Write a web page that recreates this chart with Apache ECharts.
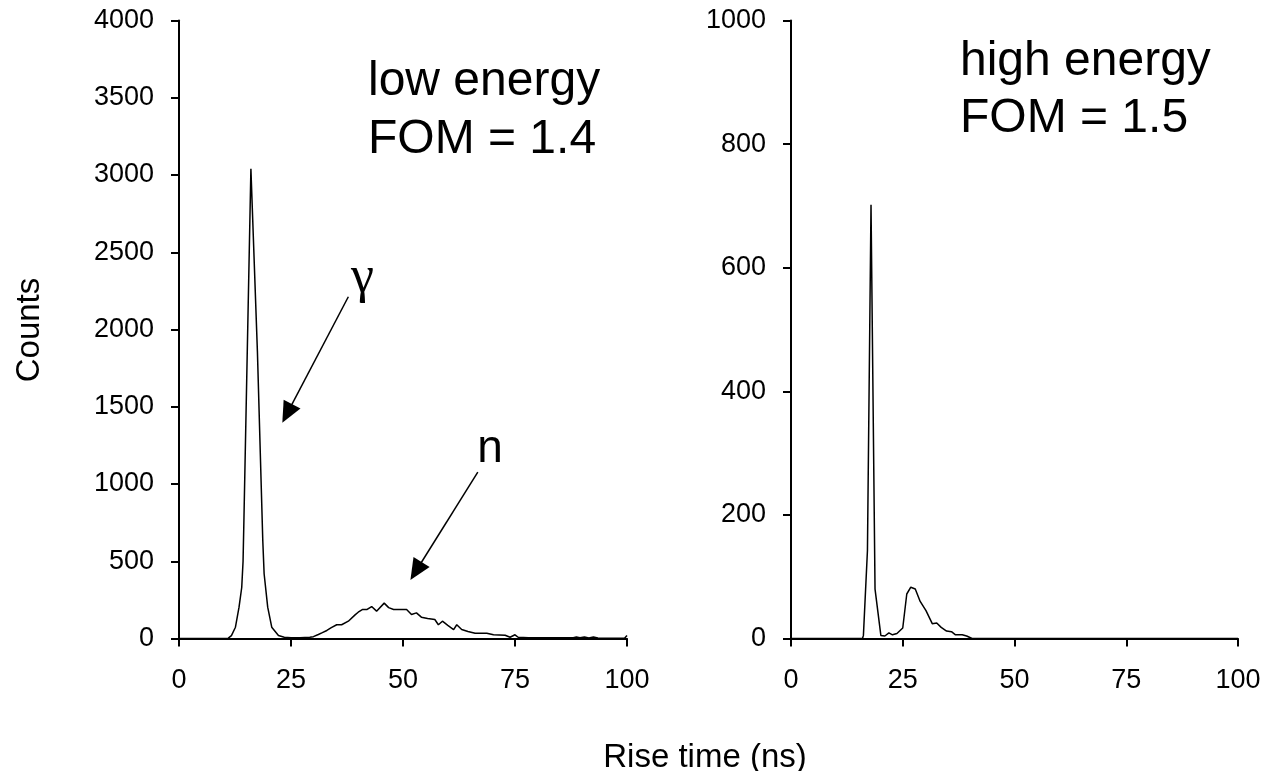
<!DOCTYPE html>
<html><head><meta charset="utf-8">
<script src="https://cdn.jsdelivr.net/npm/echarts@6/dist/echarts.min.js"></script>
<style>html,body{margin:0;padding:0;background:#fff}#c{width:1271px;height:771px}</style>
</head><body><div id="c"></div>
<script>
// Rise time (ns) vs counts, low-energy panel
const lowEnergy = [[0,0],[10,0],[11,2],[11.7,19],[12.6,73],[13.4,203],[14.0,330],[14.3,500],[14.5,780],[16.05,3040],[17.5,1860],[18.7,634],[19.0,419],[19.8,203],[20.7,73],[22.2,19],[23.5,8],[25,5],[27,5],[29.2,8],[30,12],[31.1,26],[32,38],[33,52],[34,70],[35.2,89],[36.3,89],[37.8,112],[39.3,153],[40,170],[41,188],[42,188],[43,207],[44.1,177],[45.8,229],[46.8,200],[47.9,188],[49,188],[50.8,188],[51.9,155],[53,166],[54.1,138],[55.5,130],[57.1,123],[57.9,89],[58.8,112],[60,85],[61.3,58],[62,89],[63.1,58],[64.5,45],[66.1,34],[68.7,34],[70.2,24],[72.8,21],[73.9,8],[75,24],[75.7,8],[78,5],[88,5],[88.7,10],[89.5,5],[90.5,10],[91.5,3],[92.5,10],[93.5,3],[96,2],[99.5,3],[100,20]];
// high-energy panel
const highEnergy = [[0,0],[16,0],[16.2,5],[17.1,142],[17.9,702],[18.8,80],[20.1,5],[21,4],[21.9,9],[22.7,6],[23.7,8],[25,17],[25.9,72],[26.8,83],[27.8,80],[28.9,60],[30.2,45],[31.6,24],[32.6,25],[33.6,18],[34.8,12],[35.9,11],[36.8,6],[38.3,6],[39.3,4],[40.5,0],[100,0]];
const xTicks = {min:0, max:100, interval:25};
const yTicksLow = {min:0, max:4000, interval:500};
const yTicksHigh = {min:0, max:1000, interval:200};
const lowText = 'low energy\nFOM = 1.4';
const highText = 'high energy\nFOM = 1.5';
const gammaArrow = [[37.8,2212],[24.15,1457]];
const nArrow = [[66.7,1077],[52.9,437]];
const xTitle = 'Rise time (ns)';
const yTitle = 'Counts';

const FF = '"Liberation Sans", Arial, sans-serif';
const chart = echarts.init(document.getElementById('c'), null, {renderer:'canvas'});
const plain = v => String(v);
function xAxis(gi){
  return {type:'value', gridIndex:gi, min:xTicks.min, max:xTicks.max, interval:xTicks.interval,
    axisLine:{show:true, onZero:false, lineStyle:{color:'#000', width:2}},
    axisTick:{show:true, length:8, lineStyle:{color:'#000', width:2}},
    axisLabel:{color:'#000', fontSize:27, fontFamily:FF, margin:29, formatter:plain},
    splitLine:{show:false}};
}
function yAxis(gi, t){
  return {type:'value', gridIndex:gi, min:t.min, max:t.max, interval:t.interval,
    axisLine:{show:true, lineStyle:{color:'#000', width:2}},
    axisTick:{show:true, length:8, lineStyle:{color:'#000', width:2}},
    axisLabel:{color:'#000', fontSize:27, fontFamily:FF, margin:25, formatter:plain},
    splitLine:{show:false}};
}
function arrow(a){
  return {silent:true, symbol:['none','triangle'], symbolSize:[19,21], animation:false,
    lineStyle:{color:'#000', width:1.5, type:'solid'}, label:{show:false},
    itemStyle:{color:'#000'},
    data:[[{coord:a[0]},{coord:a[1]}]]};
}
chart.setOption({
  animation:false,
  backgroundColor:'#fff',
  grid:[{left:179, top:20.5, width:448, height:618},{left:791, top:20.5, width:447, height:618}],
  xAxis:[xAxis(0), xAxis(1)],
  yAxis:[yAxis(0, yTicksLow), yAxis(1, yTicksHigh)],
  series:[
    {type:'line', xAxisIndex:0, yAxisIndex:0, data:lowEnergy, symbol:'none', lineStyle:{color:'#000', width:1.5}, markLine:arrow(gammaArrow)},
    {type:'line', xAxisIndex:0, yAxisIndex:0, data:[], markLine:arrow(nArrow)},
    {type:'line', xAxisIndex:1, yAxisIndex:1, data:highEnergy, symbol:'none', lineStyle:{color:'#000', width:1.5}}
  ],
  graphic:[
    {type:'text', x:368, y:53, style:{text:lowText, fontSize:48, fontFamily:FF, fill:'#000', lineHeight:58, align:'left', verticalAlign:'top'}},
    {type:'text', x:960, y:33, style:{text:highText, fontSize:48, fontFamily:FF, fill:'#000', lineHeight:57, align:'left', verticalAlign:'top'}},
    {type:'text', x:362.5, y:278, style:{text:'γ', fontSize:52, fontFamily:'"Liberation Serif", serif', fill:'#000', align:'center', verticalAlign:'middle'}},
    {type:'text', x:490, y:449, style:{text:'n', fontSize:46, fontFamily:FF, fill:'#000', align:'center', verticalAlign:'middle'}},
    {type:'text', x:705, y:758, style:{text:xTitle, fontSize:33, fontFamily:FF, fill:'#000', align:'center', verticalAlign:'middle'}},
    {type:'text', x:30, y:330, rotation:Math.PI/2, style:{text:yTitle, fontSize:33, fontFamily:FF, fill:'#000', align:'center', verticalAlign:'middle'}}
  ]
});
</script></body></html>
